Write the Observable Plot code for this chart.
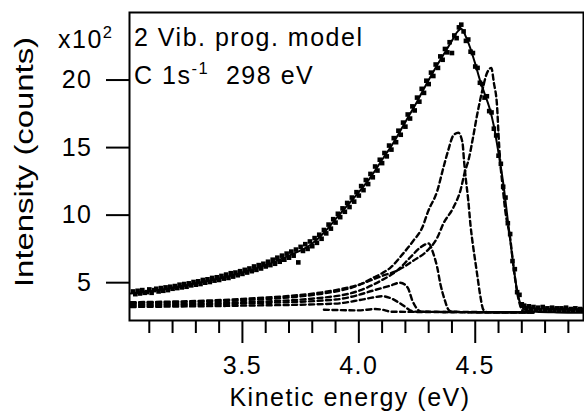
<!DOCTYPE html>
<html>
<head>
<meta charset="utf-8">
<script src="https://cdn.jsdelivr.net/npm/d3@7"></script>
<script src="https://cdn.jsdelivr.net/npm/@observablehq/plot@0.6"></script>
<style>
  html, body { margin: 0; padding: 0; background: #fff; }
  #chart svg { display: block; }
</style>
</head>
<body>
<div id="chart"></div>
<script>
// Measured points: kinetic energy (eV) and intensity (x10^2 counts)
const energy = [3.03,3.04,3.05,3.06,3.07,3.08,3.09,3.10,3.11,3.12,3.13,3.14,3.15,3.16,3.17,3.18,3.19,3.20,3.21,3.22,3.23,3.24,3.25,3.26,3.27,3.28,3.29,3.30,3.31,3.32,3.33,3.34,3.35,3.36,3.37,3.38,3.39,3.40,3.41,3.42,3.43,3.44,3.45,3.46,3.47,3.48,3.49,3.50,3.51,3.52,3.53,3.54,3.55,3.56,3.57,3.58,3.59,3.60,3.61,3.62,3.63,3.64,3.65,3.66,3.67,3.68,3.69,3.70,3.71,3.72,3.73,3.74,3.75,3.76,3.77,3.78,3.79,3.80,3.81,3.82,3.83,3.84,3.85,3.86,3.87,3.88,3.89,3.90,3.91,3.92,3.93,3.94,3.95,3.96,3.97,3.98,3.99,4.00,4.01,4.02,4.03,4.04,4.05,4.06,4.07,4.08,4.09,4.10,4.11,4.12,4.13,4.14,4.15,4.16,4.17,4.18,4.19,4.20,4.21,4.22,4.23,4.24,4.25,4.26,4.27,4.28,4.29,4.30,4.31,4.32,4.33,4.34,4.35,4.36,4.37,4.38,4.39,4.40,4.41,4.42,4.43,4.44,4.45,4.46,4.47,4.48,4.49,4.50,4.51,4.52,4.53,4.54,4.55,4.56,4.57,4.58,4.59,4.60,4.61,4.62,4.63,4.64,4.65,4.66,4.67,4.68,4.69,4.70,4.71,4.72,4.73,4.74,4.75,4.76,4.77,4.78,4.79,4.80,4.81,4.82,4.83,4.84,4.85,4.86,4.87,4.88,4.89,4.90,4.91,4.92,4.93,4.94,4.95,4.96];
const counts = [4.35,4.15,4.40,4.20,4.45,4.25,4.30,4.50,4.25,4.45,4.55,4.35,4.60,4.40,4.65,4.45,4.70,4.55,4.75,4.60,4.85,4.65,4.90,4.70,4.95,4.80,5.05,4.85,5.10,4.90,5.20,5.00,5.25,5.05,5.35,5.15,5.40,5.20,5.50,5.30,5.60,5.35,5.70,5.45,5.75,5.55,5.85,5.65,5.95,5.75,6.05,5.85,6.20,5.95,6.30,6.05,6.40,6.20,6.55,6.30,6.70,6.40,6.85,6.55,7.00,6.70,7.15,6.85,7.30,7.00,7.45,6.50,7.65,7.35,7.85,7.50,8.05,7.70,8.30,7.95,8.55,8.25,8.90,8.65,9.30,9.00,9.70,9.45,10.10,9.85,10.50,10.25,10.90,10.60,11.30,11.00,11.70,11.45,12.15,11.85,12.60,12.30,13.05,12.80,13.60,13.30,14.10,13.85,14.60,14.35,15.15,14.85,15.70,15.40,16.25,15.95,16.85,16.55,17.45,17.15,18.05,17.75,18.70,18.40,19.35,19.05,19.95,19.70,20.55,20.30,21.15,20.90,21.75,21.50,22.30,22.05,22.80,22.00,23.30,23.10,23.90,24.10,23.60,22.90,23.00,22.10,22.00,21.00,20.90,19.80,19.70,18.70,18.80,17.70,17.60,16.40,15.90,14.40,13.80,12.10,11.30,9.40,8.60,6.60,6.00,4.30,4.10,3.40,3.30,3.10,3.25,3.05,3.20,3.00,3.15,2.95,3.20,3.00,3.10,2.95,3.15,3.00,3.10,2.95,3.10,3.00,3.15,2.95,3.05,2.95,3.10,2.95,3.05,3.00];

// Fitted model (solid line)
const fitEnergy = [3.02,3.1,3.2,3.3,3.4,3.5,3.6,3.7,3.8,3.85,3.9,3.95,4.0,4.05,4.1,4.15,4.2,4.25,4.3,4.35,4.4,4.42,4.44,4.46,4.48,4.5,4.52,4.54,4.56,4.58,4.6,4.62,4.64,4.66,4.68,4.7,4.72,4.76,4.85,4.965];
const fitCounts = [4.2,4.35,4.6,4.95,5.3,5.75,6.3,7.0,7.9,8.7,9.7,10.7,11.7,12.8,14.1,15.4,16.9,18.4,20.0,21.5,22.9,23.5,23.8,23.2,22.3,21.2,20.0,19.0,18.0,16.6,14.6,12.4,9.6,6.8,4.4,3.2,2.95,2.85,2.8,2.78];

// Vibrational components (dashed lines): [energy, intensity]
const peakA = [[3.02,3.55],[3.5,3.8],[3.9,4.45],[4.0,4.85],[4.1,5.5],[4.165,5.9],[4.234,6.63],[4.294,7.37],[4.337,8.33],[4.363,9.37],[4.406,10.56],[4.436,11.8],[4.457,13.3],[4.47,14.0],[4.49,15.7],[4.509,17.5],[4.53,19.2],[4.55,20.5],[4.569,20.9],[4.58,19.8],[4.594,18.0],[4.60,16.0],[4.607,14.0],[4.616,12.4],[4.63,10.2],[4.65,8.3],[4.665,6.1],[4.68,4.3],[4.695,3.2],[4.71,2.85],[4.75,2.8]];
const peakB = [[3.02,3.5],[3.5,3.7],[3.9,4.35],[3.994,4.78],[4.062,5.37],[4.1,5.7],[4.135,6.1],[4.19,7.15],[4.234,8.1],[4.273,9.1],[4.298,10.3],[4.337,11.8],[4.363,13.5],[4.384,14.8],[4.406,15.9],[4.427,16.1],[4.445,15.4],[4.452,14.0],[4.46,12.6],[4.47,11.1],[4.48,9.2],[4.49,7.8],[4.50,6.6],[4.51,5.4],[4.52,4.2],[4.535,3.0],[4.55,2.82],[4.75,2.8]];
const peakC = [[3.02,3.4],[3.5,3.55],[3.9,4.0],[4.0,4.4],[4.1,5.2],[4.165,5.9],[4.22,6.85],[4.264,7.6],[4.30,7.9],[4.32,7.15],[4.337,6.1],[4.35,4.93],[4.37,3.67],[4.385,3.0],[4.40,2.85],[4.75,2.8]];
const peakD = [[3.02,3.3],[3.5,3.45],[3.9,3.75],[4.0,4.1],[4.06,4.41],[4.135,4.78],[4.178,5.0],[4.21,4.63],[4.23,3.67],[4.25,3.07],[4.27,2.85],[4.75,2.8]];
const peakE = [[3.02,3.2],[3.5,3.3],[3.9,3.45],[4.0,3.7],[4.06,3.9],[4.10,4.0],[4.13,3.9],[4.165,3.6],[4.2,3.2],[4.22,2.95],[4.25,2.85],[4.75,2.8]];
const peakF = [[3.85,3.0],[4.0,2.95],[4.07,3.05],[4.1,3.0],[4.14,2.85],[4.75,2.8]];

const majorTicks = [3.5, 4.0, 4.5];
const minorTicks = [3.1,3.2,3.3,3.4,3.6,3.7,3.8,3.9,4.1,4.2,4.3,4.4,4.6,4.7,4.8,4.9];
const yTicks = [5, 10, 15, 20];

const fitData = fitEnergy.map((e, i) => ({e, v: fitCounts[i]}));
const pointData = energy.map((e, i) => ({e, v: counts[i]}));
const comps = {A: peakA, B: peakB, C: peakC, D: peakD, E: peakE, F: peakF};
const compData = Object.entries(comps).flatMap(([k, arr]) => arr.map(([e, v]) => ({k, e, v})));

const FS = 25;
const FONT = '"Liberation Sans", Arial, Helvetica, sans-serif';
const chart = Plot.plot({
  width: 584,
  height: 413,
  marginLeft: 129,
  marginRight: 1,
  marginTop: 12,
  marginBottom: 93,
  style: {fontFamily: FONT, fontSize: FS + "px", color: "black", background: "white", letterSpacing: "1.5px"},
  x: {domain: [3.015, 4.965]},
  y: {domain: [2.2, 25]},
  marks: [
    Plot.line(compData, {x: "e", y: "v", z: "k", stroke: "black", strokeWidth: 2.4, strokeDasharray: "5,3.5", curve: "monotone-x"}),
    Plot.line(fitData, {x: "e", y: "v", stroke: "black", strokeWidth: 2, curve: "monotone-x"}),
    Plot.dot(pointData, {x: "e", y: "v", symbol: "square", r: 2.6, fill: "black", stroke: "none"}),
    Plot.axisX({ticks: minorTicks, tickSize: 13, tickFormat: () => "", strokeWidth: 2, label: null}),
    Plot.axisX({ticks: majorTicks, tickSize: 23, tickPadding: 13, strokeWidth: 2, tickFormat: d => d.toFixed(1), fontSize: FS, label: null}),
    Plot.axisY({ticks: yTicks, tickSize: 23, tickPadding: 14, strokeWidth: 2, fontSize: FS, label: null}),
    Plot.frame({stroke: "black", strokeWidth: 2})
  ]
});

const svg = d3.select(chart);
const addText = (x, y, parts, opts = {}) => {
  const t = svg.append("text").attr("x", x).attr("y", y)
    .attr("font-size", FS).attr("fill", "black")
    .attr("font-family", FONT)
    .attr("text-anchor", opts.anchor || "start");
  if (opts.transform) t.attr("transform", opts.transform);
  if (opts.length) t.attr("textLength", opts.length).attr("lengthAdjust", "spacingAndGlyphs").style("letter-spacing", "0px");
  parts.forEach(p => {
    const s = t.append("tspan").text(p.t);
    if (p.sup) s.attr("font-size", FS * 0.66).attr("dy", -FS * 0.42);
    if (p.down) s.attr("dy", FS * 0.42);
  });
  return t;
};
addText(58, 48, [{t: "x10"}, {t: "2", sup: true}]);
addText(134, 46, [{t: "2 Vib. prog. model"}]);
addText(134, 84, [{t: "C 1s"}, {t: "-1", sup: true}, {t: "  298 eV", down: true}]);
addText(350, 406, [{t: "Kinetic energy (eV)"}], {anchor: "middle"});
addText(0, 0, [{t: "Intensity (counts)"}], {anchor: "start", length: 250, transform: "translate(33,287) rotate(-90)"});

document.getElementById("chart").appendChild(chart);
</script>
</body>
</html>
